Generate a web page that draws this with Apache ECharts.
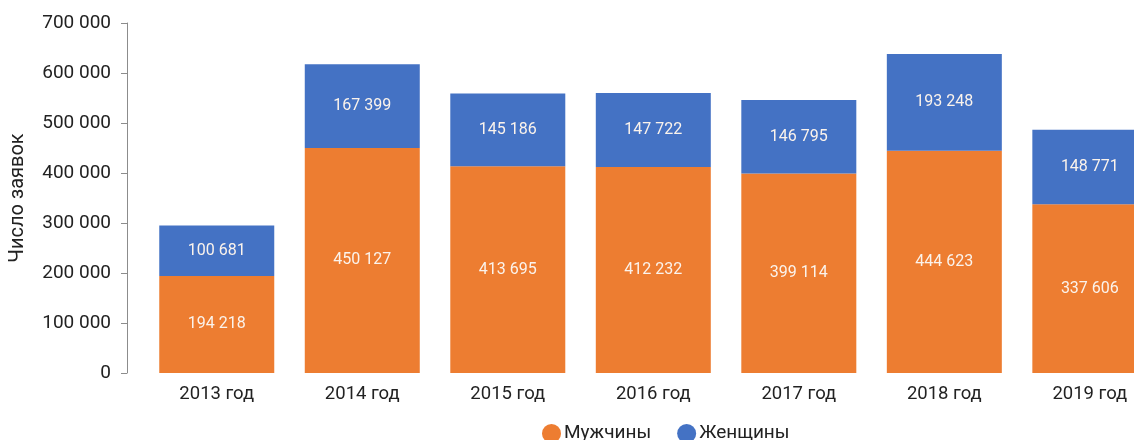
<!DOCTYPE html>
<html><head><meta charset="utf-8">
<script src="https://cdn.jsdelivr.net/npm/echarts@6/dist/echarts.min.js"></script>
<style>html,body{margin:0;padding:0;background:#fff;overflow:hidden;width:1134px;height:440px}#c{width:1180px;height:440px}</style>
</head><body><div id="c"></div>
<script>
const categories = ['2013 год','2014 год','2015 год','2016 год','2017 год','2018 год','2019 год'];
const men = [194218, 450127, 413695, 412232, 399114, 444623, 337606];
const women = [100681, 167399, 145186, 147722, 146795, 193248, 148771];
const seriesNames = ['Мужчины','Женщины'];
const yAxisName = 'Число заявок';

const fmt = v => String(v).replace(/\B(?=(\d{3})+(?!\d))/g, ' ');
const font = 'Roboto, "Noto Sans", sans-serif';

const chart = echarts.init(document.getElementById('c'), null, {renderer:'canvas'});
const labelOpt = {show:true, position:'inside', color:'#fbf3ec', fontSize:16, fontFamily:font,
  formatter: p => fmt(p.value)};
chart.setOption({
  animation:false,
  textStyle:{fontFamily:font},
  grid:{left:142.6, top:23, width:1020, height:350, containLabel:false},
  legend:{
    data:seriesNames, left:537, top:419, icon:'circle', itemWidth:19, itemHeight:19, itemGap:26,
    textStyle:{fontSize:19, color:'#222', fontFamily:font, padding:[0,0,0,-2]}
  },
  xAxis:{
    type:'category', data:categories,
    axisLine:{show:false}, axisTick:{show:false},
    axisLabel:{color:'#222', fontSize:18.5, margin:12, fontFamily:font}
  },
  yAxis:{
    type:'value', min:0, max:700000, interval:100000, offset:17,
    name:yAxisName, nameLocation:'middle', nameGap:99,
    nameTextStyle:{fontSize:20, color:'#222', fontFamily:font},
    axisLine:{show:true, lineStyle:{color:'#8c8c8c', width:1}},
    axisTick:{show:true, length:6, lineStyle:{color:'#8c8c8c'}},
    splitLine:{show:false},
    axisLabel:{color:'#222', fontSize:19, margin:16, fontFamily:font, formatter:v=>fmt(v)}
  },
  series:[
    {name:seriesNames[0], type:'bar', stack:'t', data:men, barWidth:115,
     itemStyle:{color:'#ED7D31'}, label:labelOpt},
    {name:seriesNames[1], type:'bar', stack:'t', data:women, barWidth:115,
     itemStyle:{color:'#4472C4'}, label:labelOpt}
  ]
});
</script></body></html>
